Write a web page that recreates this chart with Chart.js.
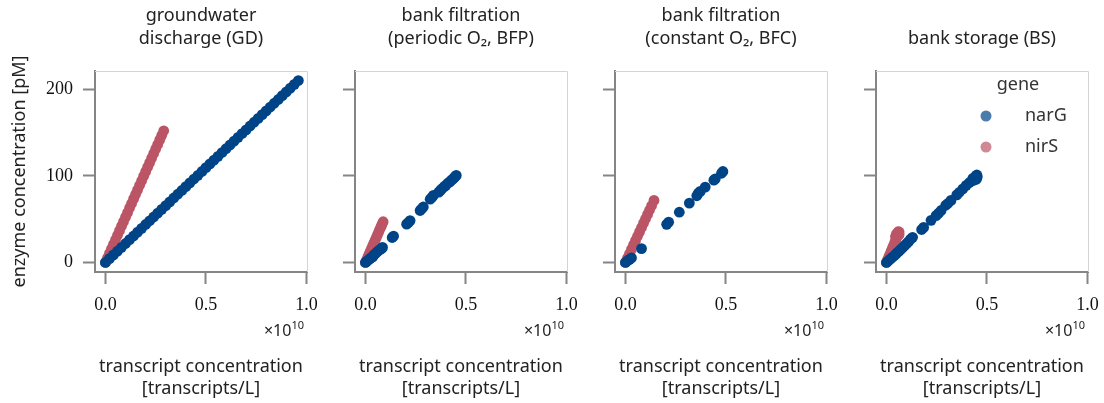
<!DOCTYPE html>
<html>
<head>
<meta charset="utf-8">
<script src="https://cdn.jsdelivr.net/npm/chart.js@4.4.1/dist/chart.umd.min.js"></script>
<style>
  html, body { margin: 0; padding: 0; background: #ffffff; }
  #fig { position: relative; width: 1104px; height: 403px; overflow: hidden; background: #ffffff; }
  #fig canvas { position: absolute; top: 0; }
</style>
</head>
<body>
<div id="fig"></div>
<script>
// Transcript concentrations are stored in units of 1e10 transcripts/L,
// enzyme concentrations in pM.

const panelTitles = [
  ['groundwater', 'discharge (GD)'],
  ['bank filtration', '(periodic O\u2082, BFP)'],
  ['bank filtration', '(constant O\u2082, BFC)'],
  ['bank storage (BS)']
];
const geneNames = ['narG', 'nirS'];
const legendTitle = 'gene';
const xAxisTitle = ['transcript concentration', '[transcripts/L]'];
const yAxisTitle = 'enzyme concentration [pM]';
const xTickValues = [0, 0.5, 1.0];
const xTickLabels = ['0.0', '0.5', '1.0'];
const yTickValues = [0, 100, 200];
const yTickLabels = ['0', '100', '200'];
const xOffsetBase = '\u00d710';
const xOffsetExponent = '10';

// groundwater discharge (GD)
const gdNarGX = [0.00, 0.02, 0.04, 0.06, 0.08, 0.10, 0.12, 0.14, 0.16, 0.18, 0.20, 0.22, 0.24, 0.26, 0.28, 0.30, 0.32, 0.34, 0.36, 0.38, 0.40, 0.42, 0.44, 0.46, 0.48, 0.50, 0.52, 0.54, 0.56, 0.58, 0.60, 0.62, 0.64, 0.66, 0.68, 0.70, 0.72, 0.74, 0.76, 0.78, 0.80, 0.82, 0.84, 0.86, 0.88, 0.90, 0.92, 0.94, 0.96];
const gdNarGY = [0.0, 4.4, 8.8, 13.1, 17.5, 21.9, 26.3, 30.6, 35.0, 39.4, 43.8, 48.1, 52.5, 56.9, 61.3, 65.6, 70.0, 74.4, 78.8, 83.1, 87.5, 91.9, 96.3, 100.6, 105.0, 109.4, 113.8, 118.1, 122.5, 126.9, 131.3, 135.6, 140.0, 144.4, 148.8, 153.1, 157.5, 161.9, 166.3, 170.6, 175.0, 179.4, 183.8, 188.1, 192.5, 196.9, 201.3, 205.6, 210.0];
const gdNirSX = [0.00, 0.01, 0.02, 0.03, 0.04, 0.05, 0.06, 0.07, 0.08, 0.09, 0.10, 0.11, 0.12, 0.13, 0.14, 0.15, 0.16, 0.17, 0.18, 0.19, 0.20, 0.21, 0.22, 0.23, 0.24, 0.25, 0.26, 0.27, 0.28, 0.29];
const gdNirSY = [0.0, 5.2, 10.5, 15.7, 21.0, 26.2, 31.4, 36.7, 41.9, 47.2, 52.4, 57.6, 62.9, 68.1, 73.4, 78.6, 83.8, 89.1, 94.3, 99.6, 104.8, 110.0, 115.3, 120.5, 125.8, 131.0, 136.2, 141.5, 146.7, 152.0];

// bank filtration, periodic O2 (BFP)
const bfpNarGX = [0.000, 0.008, 0.016, 0.024, 0.030, 0.036, 0.042, 0.050, 0.060, 0.070, 0.080, 0.085, 0.133, 0.140, 0.205, 0.213, 0.222, 0.272, 0.280, 0.288, 0.322, 0.330, 0.338, 0.365, 0.372, 0.380, 0.392, 0.400, 0.410, 0.420, 0.428, 0.436, 0.442, 0.448, 0.452];
const bfpNarGY = [0.0, 1.6, 3.2, 4.8, 5.8, 6.5, 8.6, 10.4, 12.6, 14.5, 16.0, 17.4, 28.8, 30.4, 44.2, 46.0, 48.3, 60.0, 62.0, 64.0, 73.0, 75.0, 77.4, 81.2, 83.0, 85.0, 87.5, 89.0, 91.5, 93.0, 95.0, 96.5, 98.0, 99.5, 100.5];
const bfpNirSX = [0.000, 0.006, 0.012, 0.018, 0.024, 0.030, 0.036, 0.042, 0.048, 0.054, 0.060, 0.066, 0.072, 0.078, 0.083, 0.088];
const bfpNirSY = [0.0, 3.2, 6.4, 9.6, 12.8, 16.0, 19.2, 22.4, 25.6, 28.8, 32.0, 35.2, 38.5, 41.6, 44.3, 47.0];

// bank filtration, constant O2 (BFC)
const bfcNarGX = [0.000, 0.010, 0.020, 0.030, 0.080, 0.205, 0.215, 0.268, 0.318, 0.355, 0.363, 0.372, 0.397, 0.440, 0.447, 0.478, 0.485];
const bfcNarGY = [0.0, 2.0, 3.6, 5.3, 16.0, 44.0, 46.5, 58.0, 68.5, 77.0, 80.0, 82.0, 87.0, 95.0, 96.5, 103.0, 105.0];
const bfcNirSX = [0.000, 0.010, 0.020, 0.030, 0.040, 0.050, 0.060, 0.070, 0.080, 0.090, 0.100, 0.110, 0.120, 0.130, 0.142];
const bfcNirSY = [0.0, 5.0, 10.1, 15.1, 20.2, 25.2, 30.3, 35.3, 40.3, 45.4, 50.4, 55.5, 60.5, 65.5, 71.6];

// bank storage (BS)
const bsNarGX = [0.000, 0.010, 0.020, 0.030, 0.040, 0.050, 0.060, 0.070, 0.080, 0.090, 0.100, 0.110, 0.120, 0.130, 0.175, 0.185, 0.222, 0.247, 0.260, 0.272, 0.295, 0.305, 0.321, 0.350, 0.363, 0.380, 0.397, 0.412, 0.425, 0.430, 0.435, 0.440, 0.445, 0.448, 0.450, 0.452];
const bsNarGY = [0.0, 2.0, 4.0, 6.2, 8.0, 10.5, 12.5, 14.8, 17.0, 19.5, 21.8, 24.0, 27.0, 29.0, 38.0, 40.5, 48.6, 54.0, 57.0, 60.0, 66.0, 68.0, 71.6, 78.0, 81.0, 85.0, 89.0, 92.0, 94.0, 97.0, 95.0, 98.0, 100.0, 96.0, 101.0, 99.0];
const bsNirSX = [0.000, 0.006, 0.012, 0.018, 0.024, 0.030, 0.036, 0.042, 0.045, 0.048, 0.050, 0.054, 0.058, 0.060, 0.063, 0.063];
const bsNirSY = [0.0, 3.3, 6.7, 10.0, 13.4, 16.8, 20.1, 23.5, 30.0, 26.8, 33.0, 30.2, 35.5, 33.5, 35.2, 32.0];

const panelData = [
  [[gdNarGX, gdNarGY], [gdNirSX, gdNirSY]],
  [[bfpNarGX, bfpNarGY], [bfpNirSX, bfpNirSY]],
  [[bfcNarGX, bfcNarGY], [bfcNirSX, bfcNirSY]],
  [[bsNarGX, bsNarGY], [bsNirSX, bsNirSY]]
];

const geneColors = ['#004488', '#BB5566'];
const geneLegendColors = ['rgba(0,68,136,0.7)', 'rgba(187,85,102,0.7)'];

const textFont = '"Noto Sans", "Open Sans", sans-serif';
const tickFont = '"Liberation Serif", "DejaVu Serif", serif';
const textColor = '#222222';
const spineColor = '#858585';

// geometry of the four panels
const plotLefts = [95, 355, 615, 875.5];
const plotWidth = 212;
const canvasHeight = 403;
const xAxisHeight = 131;
const rightPad = 24;
const textSize = 18;
const titleLineHeight = 1.28;

function toPoints(xs, ys) {
  return xs.map((x, i) => ({ x: x, y: ys[i] }));
}

// light top/right frame and the x offset text under each axis
const framePlugin = {
  id: 'frame',
  beforeDatasetsDraw(chart) {
    const { ctx, chartArea: a } = chart;
    ctx.save();
    ctx.strokeStyle = '#d4d4d4';
    ctx.lineWidth = 1;
    ctx.beginPath();
    ctx.moveTo(a.left, a.top + 0.5);
    ctx.lineTo(a.right + 0.5, a.top + 0.5);
    ctx.lineTo(a.right + 0.5, a.bottom);
    ctx.stroke();
    ctx.restore();
  },
  afterDraw(chart) {
    const { ctx, chartArea: a } = chart;
    ctx.save();
    ctx.fillStyle = textColor;
    ctx.textBaseline = 'alphabetic';
    ctx.textAlign = 'right';
    ctx.font = '11px ' + textFont;
    const expW = ctx.measureText(xOffsetExponent).width;
    const xr = a.right - 3;
    ctx.fillText(xOffsetExponent, xr, a.bottom + 57);
    ctx.font = '16px ' + textFont;
    ctx.fillText(xOffsetBase, xr - expW, a.bottom + 64);
    ctx.restore();
  }
};

// legend box inside the last panel
const geneLegendPlugin = {
  id: 'geneLegend',
  afterDraw(chart, args, opts) {
    if (!opts.show) return;
    const { ctx, chartArea: a } = chart;
    ctx.save();
    ctx.fillStyle = '#333333';
    ctx.font = textSize + 'px ' + textFont;
    ctx.textAlign = 'center';
    ctx.textBaseline = 'middle';
    ctx.fillText(legendTitle, a.left + 142, a.top + 14);
    chart.data.datasets.forEach((ds, i) => {
      const y = a.top + 45 + i * 31;
      ctx.beginPath();
      ctx.fillStyle = geneLegendColors[i];
      ctx.arc(a.left + 110, y, 5.5, 0, Math.PI * 2);
      ctx.fill();
      ctx.fillStyle = '#333333';
      ctx.textAlign = 'left';
      ctx.fillText(ds.label, a.left + 149, y);
    });
    ctx.restore();
  }
};

const fig = document.getElementById('fig');

panelData.forEach((series, p) => {
  const yW = p === 0 ? 95 : 40;
  const canvas = document.createElement('canvas');
  const w = yW + plotWidth + rightPad;
  canvas.width = w;
  canvas.height = canvasHeight;
  canvas.style.left = (plotLefts[p] - yW) + 'px';
  canvas.style.width = w + 'px';
  canvas.style.height = canvasHeight + 'px';
  fig.appendChild(canvas);

  const lh = textSize * titleLineHeight;
  const missingLines = 2 - panelTitles[p].length;

  new Chart(canvas, {
    type: 'scatter',
    data: {
      datasets: series.map((s, g) => ({
        label: geneNames[g],
        data: toPoints(s[0], s[1]),
        backgroundColor: geneColors[g],
        borderWidth: 0,
        pointRadius: 5.4,
        pointHoverRadius: 5.4
      }))
    },
    options: {
      responsive: false,
      animation: false,
      devicePixelRatio: 1,
      layout: { padding: { left: 0, right: rightPad, top: 0, bottom: 0 } },
      plugins: {
        legend: { display: false },
        tooltip: { enabled: false },
        title: {
          display: true,
          fullSize: false,
          text: panelTitles[p],
          color: textColor,
          font: { family: textFont, size: textSize, weight: 'normal', lineHeight: titleLineHeight },
          padding: { top: 4 + missingLines * lh, bottom: 71 - 4 - 2 * lh }
        },
        geneLegend: { show: p === 3 }
      },
      scales: {
        x: {
          type: 'linear',
          min: -0.052,
          max: 1.003,
          afterFit(scale) { scale.height = xAxisHeight; },
          afterBuildTicks(scale) { scale.ticks = xTickValues.map(v => ({ value: v })); },
          ticks: {
            color: '#111111',
            font: { family: tickFont, size: 18 },
            padding: 10,
            maxRotation: 0,
            autoSkip: false,
            callback: (v, i) => xTickLabels[i]
          },
          grid: {
            drawOnChartArea: false,
            drawTicks: true,
            tickLength: 12,
            tickWidth: 2,
            tickColor: spineColor
          },
          border: { display: true, color: spineColor, width: 2 },
          title: {
            display: true,
            text: xAxisTitle,
            color: textColor,
            font: { family: textFont, size: textSize, weight: 'normal', lineHeight: 1.22 },
            padding: { top: 0, bottom: 3 }
          }
        },
        y: {
          type: 'linear',
          min: -11,
          max: 221,
          afterFit(scale) { scale.width = yW; },
          afterBuildTicks(scale) { scale.ticks = yTickValues.map(v => ({ value: v })); },
          ticks: {
            color: '#111111',
            font: { family: tickFont, size: 18 },
            padding: 10,
            autoSkip: false,
            callback: (v, i) => (p === 0 ? yTickLabels[i] : '')
          },
          grid: {
            drawOnChartArea: false,
            drawTicks: true,
            tickLength: 12,
            tickWidth: 2,
            tickColor: spineColor
          },
          border: { display: true, color: spineColor, width: 2 },
          title: {
            display: p === 0,
            text: yAxisTitle,
            color: textColor,
            font: { family: textFont, size: textSize, weight: 'normal', lineHeight: 1.3 },
            padding: { top: 8, bottom: 0 }
          }
        }
      }
    },
    plugins: [framePlugin, geneLegendPlugin]
  });
});
</script>
</body>
</html>
